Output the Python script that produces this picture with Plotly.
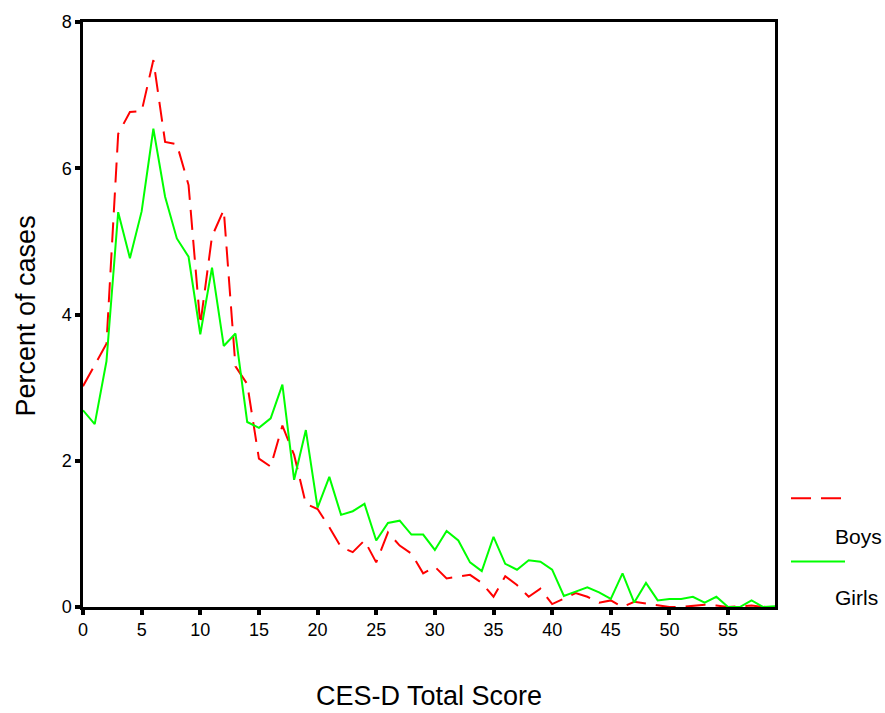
import plotly.graph_objects as go

scores = list(range(0, 60))
boys = [3.02, 3.31, 3.60, 6.47, 6.77, 6.78, 7.48, 6.36, 6.33, 5.77,
        3.86, 5.07, 5.43, 3.29, 3.05, 2.03, 1.92, 2.48, 2.08, 1.41,
        1.34, 1.09, 0.82, 0.75, 0.91, 0.61, 1.02, 0.84, 0.73, 0.46,
        0.55, 0.39, 0.41, 0.44, 0.33, 0.14, 0.42, 0.30, 0.14, 0.25,
        0.04, 0.12, 0.19, 0.14, 0.06, 0.09, 0.00, 0.07, 0.05, 0.02,
        0.00, 0.00, 0.01, 0.03, 0.02, 0.00, 0.01, 0.02, 0.00, 0.02]
girls = [2.69, 2.50, 3.36, 5.40, 4.77, 5.41, 6.54, 5.61, 5.04, 4.79,
         3.73, 4.64, 3.57, 3.74, 2.53, 2.45, 2.58, 3.04, 1.74, 2.42,
         1.36, 1.78, 1.26, 1.31, 1.41, 0.91, 1.15, 1.18, 0.99, 0.99,
         0.78, 1.04, 0.91, 0.61, 0.49, 0.96, 0.59, 0.51, 0.64, 0.62,
         0.51, 0.15, 0.21, 0.27, 0.20, 0.11, 0.46, 0.06, 0.33, 0.09,
         0.11, 0.11, 0.14, 0.06, 0.14, 0.00, 0.00, 0.09, 0.00, 0.01]
x_ticks = [0, 5, 10, 15, 20, 25, 30, 35, 40, 45, 50, 55]
y_ticks = [0, 2, 4, 6, 8]

FONT = "Liberation Sans, Arial, sans-serif"

fig = go.Figure()
fig.add_trace(go.Scatter(x=scores, y=boys, mode="lines", name="Boys",
                         line=dict(color="#FF0000", width=2, dash="20px,10px")))
fig.add_trace(go.Scatter(x=scores, y=girls, mode="lines", name="Girls",
                         line=dict(color="#00FF00", width=2)))

fig.update_layout(
    width=885, height=713,
    margin=dict(l=83, r=110, t=15, b=106),
    paper_bgcolor="white", plot_bgcolor="white",
    showlegend=False,
    font=dict(family=FONT, color="black"),
    xaxis=dict(range=[0, 59], tickvals=x_ticks, ticks="outside", ticklen=5, tickwidth=4,
               tickcolor="black", showgrid=False, zeroline=False, showline=True,
               linecolor="black", linewidth=2.5, mirror=True,
               tickfont=dict(size=18, family=FONT)),
    yaxis=dict(range=[0, 8], tickvals=y_ticks, ticks="outside", ticklen=5, tickwidth=4,
               tickcolor="black", showgrid=False, zeroline=False, showline=True,
               linecolor="black", linewidth=2.5, mirror=True,
               tickfont=dict(size=18, family=FONT)),
)

# axis titles
fig.add_annotation(text="CES-D Total Score", xref="paper", yref="paper",
                   x=(429 - 83) / 692, y=-(697 - 607) / 592, showarrow=False,
                   font=dict(size=27, family=FONT), xanchor="center", yanchor="middle")
fig.add_annotation(text="Percent of cases", xref="paper", yref="paper",
                   x=-(83 - 26) / 692, y=(607 - 313) / 592, showarrow=False, textangle=-90,
                   font=dict(size=27, family=FONT), xanchor="center", yanchor="middle")

# legend
fig.add_shape(type="line", xref="paper", yref="paper",
              x0=(791 - 83) / 692, x1=(845 - 83) / 692,
              y0=(607 - 497) / 592, y1=(607 - 497) / 592,
              line=dict(color="#FF0000", width=2, dash="20px,10px"))
fig.add_shape(type="line", xref="paper", yref="paper",
              x0=(791 - 83) / 692, x1=(845 - 83) / 692,
              y0=(607 - 561) / 592, y1=(607 - 561) / 592,
              line=dict(color="#00FF00", width=2))
fig.add_annotation(text="Boys", xref="paper", yref="paper",
                   x=(833 - 83) / 692, y=(607 - 536) / 592, showarrow=False,
                   font=dict(size=21, family=FONT), xanchor="left", yanchor="middle")
fig.add_annotation(text="Girls", xref="paper", yref="paper",
                   x=(833 - 83) / 692, y=(607 - 597) / 592, showarrow=False,
                   font=dict(size=21, family=FONT), xanchor="left", yanchor="middle")

fig.write_html("out.html")
